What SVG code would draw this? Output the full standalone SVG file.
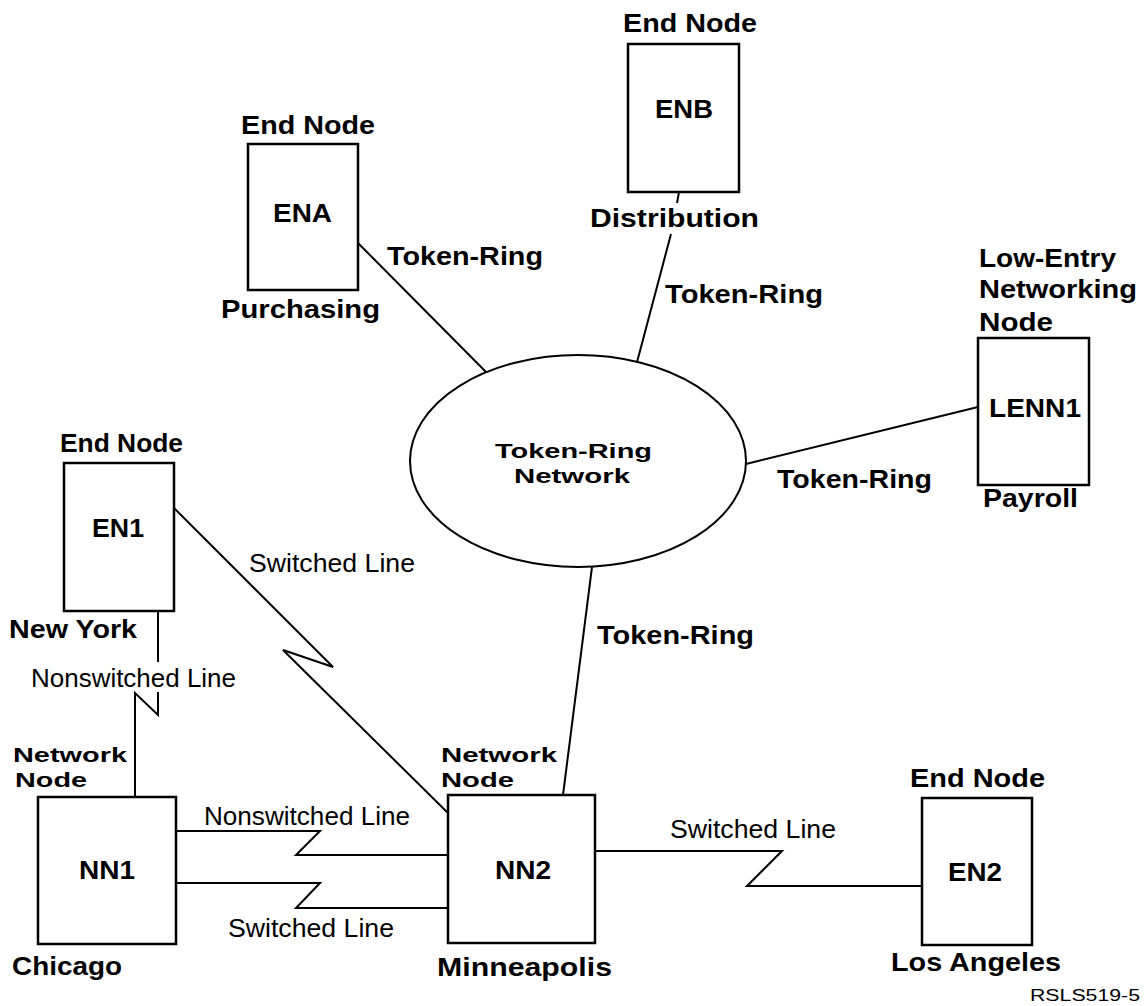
<svg xmlns="http://www.w3.org/2000/svg" width="1144" height="1006" viewBox="0 0 1144 1006">
<style>
.b{font-family:"Liberation Sans",Arial,sans-serif;font-weight:bold;font-size:25px;fill:#000}
.t{font-size:21px}
.r{font-family:"Liberation Sans",Arial,sans-serif;font-size:25px;fill:#000}
.s{font-family:"Liberation Sans",Arial,sans-serif;font-size:16px;fill:#000}
.box{fill:#fff;stroke:#000;stroke-width:2.5}
.ln{fill:none;stroke:#000;stroke-width:2}
</style>
<rect width="1144" height="1006" fill="#fff"/>
<g id="connectors">
<path class="ln" d="M358,243 L489,375"/>
<path class="ln" d="M679,192 L677,203 M671,234 L636,366"/>
<path class="ln" d="M746,464 L978,407"/>
<path class="ln" d="M174,508 L333,667 L283,650 L448,813"/>
<path class="ln" d="M158,611 L158,662 M158,692 L158,715 L135,693 L135,797"/>
<path class="ln" d="M176,831 L320,831 L296,855 L448,855"/>
<path class="ln" d="M176,883 L320,883 L296,908 L448,908"/>
<path class="ln" d="M563,795 L592,567"/>
<path class="ln" d="M595,851 L782,851 L747,886 L922,886"/>
<text class="b" x="387" y="265" textLength="156" lengthAdjust="spacingAndGlyphs">Token-Ring</text>
<text class="b" x="665" y="303" textLength="158" lengthAdjust="spacingAndGlyphs">Token-Ring</text>
<text class="b" x="777" y="488" textLength="155" lengthAdjust="spacingAndGlyphs">Token-Ring</text>
<text class="b" x="597" y="644" textLength="157" lengthAdjust="spacingAndGlyphs">Token-Ring</text>
<text class="r" x="249" y="572" textLength="166" lengthAdjust="spacingAndGlyphs">Switched Line</text>
<text class="r" x="31" y="687" textLength="205" lengthAdjust="spacingAndGlyphs">Nonswitched Line</text>
<text class="r" x="204" y="825" textLength="206" lengthAdjust="spacingAndGlyphs">Nonswitched Line</text>
<text class="r" x="228" y="937" textLength="166" lengthAdjust="spacingAndGlyphs">Switched Line</text>
<text class="r" x="670" y="838" textLength="166" lengthAdjust="spacingAndGlyphs">Switched Line</text>
</g>
<g id="ring">
<ellipse cx="578" cy="461" rx="168" ry="106" fill="#fff" stroke="#000" stroke-width="2"/>
<text class="b t" x="495" y="458" textLength="157" lengthAdjust="spacingAndGlyphs">Token-Ring</text>
<text class="b t" x="514" y="483" textLength="116" lengthAdjust="spacingAndGlyphs">Network</text>
</g>
<g id="ENA">
<text class="b" x="241" y="134" textLength="134" lengthAdjust="spacingAndGlyphs">End Node</text>
<rect class="box" x="248" y="144" width="110" height="146"/>
<text class="b" x="273" y="222" textLength="59" lengthAdjust="spacingAndGlyphs">ENA</text>
<text class="b" x="221" y="318" textLength="159" lengthAdjust="spacingAndGlyphs">Purchasing</text>
</g>
<g id="ENB">
<text class="b" x="623" y="32" textLength="134" lengthAdjust="spacingAndGlyphs">End Node</text>
<rect class="box" x="628" y="44" width="111" height="148"/>
<text class="b" x="655" y="118" textLength="58" lengthAdjust="spacingAndGlyphs">ENB</text>
<text class="b" x="590" y="227" textLength="169" lengthAdjust="spacingAndGlyphs">Distribution</text>
</g>
<g id="LENN1">
<text class="b" x="979" y="267" textLength="137" lengthAdjust="spacingAndGlyphs">Low-Entry</text>
<text class="b" x="979" y="298" textLength="158" lengthAdjust="spacingAndGlyphs">Networking</text>
<text class="b" x="979" y="331" textLength="74" lengthAdjust="spacingAndGlyphs">Node</text>
<rect class="box" x="978" y="338" width="111" height="147"/>
<text class="b" x="989" y="417" textLength="92" lengthAdjust="spacingAndGlyphs">LENN1</text>
<text class="b" x="983" y="507" textLength="95" lengthAdjust="spacingAndGlyphs">Payroll</text>
</g>
<g id="EN1">
<text class="b" x="60" y="452" textLength="123" lengthAdjust="spacingAndGlyphs">End Node</text>
<rect class="box" x="64" y="463" width="110" height="148"/>
<text class="b" x="92" y="537" textLength="52" lengthAdjust="spacingAndGlyphs">EN1</text>
<text class="b" x="9" y="638" textLength="128" lengthAdjust="spacingAndGlyphs">New York</text>
</g>
<g id="NN1">
<text class="b t" x="13" y="762" textLength="114" lengthAdjust="spacingAndGlyphs">Network</text>
<text class="b t" x="15" y="787" textLength="72" lengthAdjust="spacingAndGlyphs">Node</text>
<rect class="box" x="38" y="797" width="138" height="147"/>
<text class="b" x="79" y="879" textLength="56" lengthAdjust="spacingAndGlyphs">NN1</text>
<text class="b" x="12" y="975" textLength="110" lengthAdjust="spacingAndGlyphs">Chicago</text>
</g>
<g id="NN2">
<text class="b t" x="441" y="762" textLength="116" lengthAdjust="spacingAndGlyphs">Network</text>
<text class="b t" x="441" y="787" textLength="73" lengthAdjust="spacingAndGlyphs">Node</text>
<rect class="box" x="448" y="795" width="147" height="148"/>
<text class="b" x="495" y="879" textLength="56" lengthAdjust="spacingAndGlyphs">NN2</text>
<text class="b" x="437" y="976" textLength="175" lengthAdjust="spacingAndGlyphs">Minneapolis</text>
</g>
<g id="EN2">
<text class="b" x="910" y="787" textLength="135" lengthAdjust="spacingAndGlyphs">End Node</text>
<rect class="box" x="922" y="798" width="110" height="147"/>
<text class="b" x="948" y="881" textLength="54" lengthAdjust="spacingAndGlyphs">EN2</text>
<text class="b" x="891" y="971" textLength="170" lengthAdjust="spacingAndGlyphs">Los Angeles</text>
</g>
<text class="s" x="1030" y="1001" textLength="110" lengthAdjust="spacingAndGlyphs">RSLS519-5</text>
</svg>
